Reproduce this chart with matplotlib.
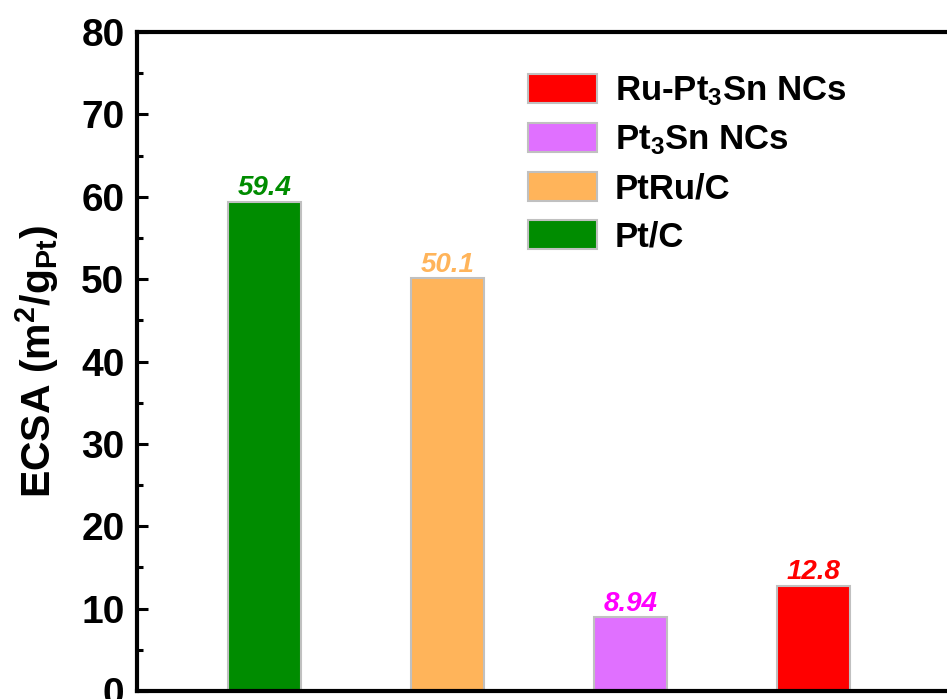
import matplotlib
matplotlib.use("Agg")
import matplotlib.pyplot as plt
from matplotlib.patches import Patch
from matplotlib.ticker import MultipleLocator

plt.rcParams['font.family'] = ['Liberation Sans', 'DejaVu Sans']
plt.rcParams['font.weight'] = 'bold'
plt.rcParams['mathtext.fontset'] = 'custom'
plt.rcParams['mathtext.rm'] = 'Liberation Sans:bold'
plt.rcParams['mathtext.it'] = 'Liberation Sans:bold:italic'
plt.rcParams['mathtext.bf'] = 'Liberation Sans:bold'
plt.rcParams['mathtext.default'] = 'regular'

# catalysts, left to right
samples = ['Pt/C', 'PtRu/C', 'Pt$_3$Sn NCs', 'Ru-Pt$_3$Sn NCs']
ecsa = [59.4, 50.1, 8.94, 12.8]
value_text = ['59.4', '50.1', '8.94', '12.8']
bar_colors = ['#008c00', '#ffb45a', '#e070ff', '#ff0000']
text_colors = ['#008c00', '#ffb45a', '#ff00ff', '#ff0000']
positions = [1, 2, 3, 4]

W, H = 947, 699
fig = plt.figure(figsize=(W / 100, H / 100), dpi=100)
# axes run past the right and bottom edges of the canvas
left, right, top, bottom = 137, 996, 32, 691
ax = fig.add_axes([left / W, 1 - bottom / H, (right - left) / W, (bottom - top) / H])

ax.bar(positions, ecsa, width=0.4, color=bar_colors,
       edgecolor='#c0c0c0', linewidth=1.5, zorder=2)
for x, v, t, c in zip(positions, ecsa, value_text, text_colors):
    ax.annotate(t, (x, v), xytext=(0, 4.5), textcoords='offset points',
                ha='center', va='baseline', color=c,
                fontsize=20, fontweight='bold', fontstyle='italic')

ax.set_xlim(0.3, 5.0)
ax.set_ylim(0, 80)
ax.set_xticks([])
ax.yaxis.set_major_locator(MultipleLocator(10))
ax.yaxis.set_minor_locator(MultipleLocator(5))
ax.tick_params(axis='y', which='major', direction='in', length=8, width=2.2,
               labelsize=28, pad=9)
ax.tick_params(axis='y', which='minor', direction='in', length=4.5, width=2.2)
for s in ax.spines.values():
    s.set_linewidth(3)

ax.set_ylabel('ECSA (m$^2$/g$_{Pt}$)', fontsize=29.5, fontweight='bold')
ax.yaxis.set_label_coords(-0.088, 0.5)

handles = [Patch(facecolor=c, edgecolor='#c0c0c0', linewidth=1.5) for c in bar_colors]
ax.legend(handles[::-1], samples[::-1], loc='upper left',
          bbox_to_anchor=(528 / W, 1 - 74 / H), bbox_transform=fig.transFigure,
          frameon=False, fontsize=25, handlelength=2.0, handleheight=0.92,
          handletextpad=0.5, labelspacing=0.42, borderpad=0, borderaxespad=0)

fig.savefig('out.png', dpi=100)
